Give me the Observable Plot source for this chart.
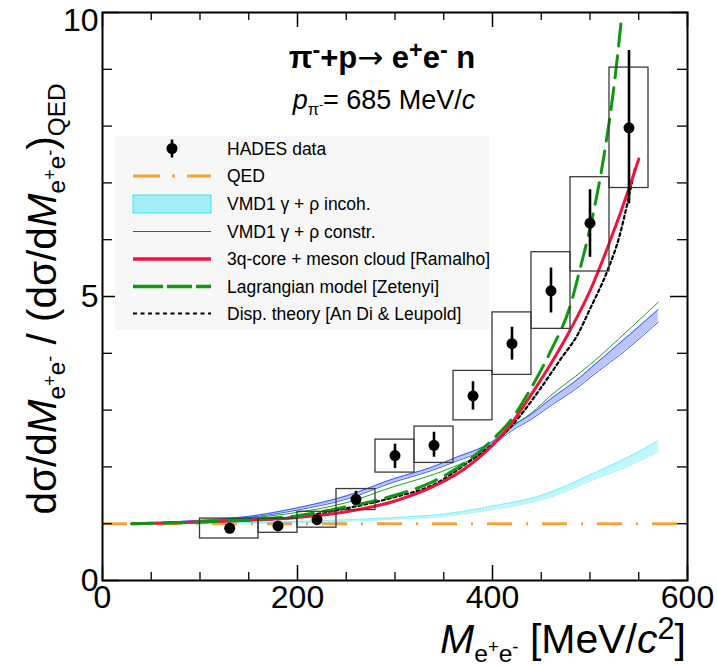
<!DOCTYPE html>
<html><head><meta charset="utf-8">
<script src="https://cdn.jsdelivr.net/npm/d3@7"></script>
<script src="https://cdn.jsdelivr.net/npm/@observablehq/plot@0.6"></script>
<style>
body{margin:0;background:#fff;}
#wrap{position:relative;width:717px;height:666px;font-family:"Liberation Sans",Arial,Helvetica,sans-serif;color:#000;}
.ov{position:absolute;white-space:nowrap;line-height:1;}
.sb{font-size:0.6em;position:relative;top:0.35em;}
.sp{font-size:0.75em;position:relative;top:-0.45em;}
.arr{font-weight:normal;font-family:"DejaVu Sans",sans-serif;}
</style></head><body><div id="wrap"></div>
<script>
// ---- HADES data points ----
const dataX  = [130.5, 180, 220, 260, 300, 340, 380, 420, 460, 500, 540];
const dataY  = [0.92, 0.96, 1.07, 1.43, 2.20, 2.38, 3.25, 4.17, 5.10, 6.29, 7.97];
const statLo = [0.84, 0.89, 0.99, 1.35, 1.97, 2.17, 3.00, 3.88, 4.71, 5.69, 6.63];
const statHi = [1.00, 1.03, 1.15, 1.57, 2.40, 2.61, 3.50, 4.46, 5.50, 6.88, 9.33];
// systematic boxes
const sysX1 = [100, 160, 200, 240, 280, 320, 360, 400, 440, 480, 520];
const sysX2 = [160, 200, 240, 280, 320, 360, 400, 440, 480, 520, 560];
const sysLo = [0.74, 0.84, 0.93, 1.24, 1.90, 2.07, 2.82, 3.62, 4.43, 5.44, 6.91];
const sysHi = [1.09, 1.09, 1.21, 1.61, 2.48, 2.71, 3.69, 4.72, 5.78, 7.10, 9.03];
// QED reference
const qedY = [1];
// VMD1 gamma + rho incoherent (band)
const incohX  = [30, 100, 150, 200, 250, 300, 350, 400, 450, 480, 500, 540, 570];
const incohLo = [1.00, 1.00, 1.01, 1.02, 1.04, 1.08, 1.13, 1.25, 1.42, 1.60, 1.75, 2.02, 2.27];
const incohHi = [1.00, 1.01, 1.02, 1.04, 1.07, 1.11, 1.17, 1.31, 1.50, 1.70, 1.86, 2.18, 2.46];
// VMD1 gamma + rho constructive (band)
const constrX  = [30, 100, 150, 200, 250, 300, 335, 360, 400, 420, 440, 460, 490, 500, 540, 570];
const constrLo = [1.00, 1.05, 1.11, 1.24, 1.43, 1.74, 1.92, 2.08, 2.38, 2.64, 2.84, 3.08, 3.43, 3.57, 4.10, 4.55];
const constrHi = [1.00, 1.06, 1.13, 1.28, 1.49, 1.80, 1.98, 2.15, 2.45, 2.72, 2.93, 3.20, 3.58, 3.73, 4.32, 4.77];
// thin green companion curve
const greenThin = [1.00, 1.04, 1.10, 1.20, 1.37, 1.66, 1.84, 2.00, 2.36, 2.70, 2.95, 3.26, 3.66, 3.80, 4.42, 4.90];
// 3q-core + meson cloud [Ramalho]
const ramX = [30, 100, 150, 200, 250, 300, 340, 370, 400, 420, 440, 460, 480, 500, 520, 540, 550];
const ramY = [1.00, 1.03, 1.06, 1.11, 1.21, 1.40, 1.66, 1.95, 2.38, 2.78, 3.28, 3.82, 4.42, 5.10, 5.95, 6.90, 7.42];
// Lagrangian model [Zetenyi]
const zetX = [30, 100, 150, 200, 250, 300, 340, 370, 400, 420, 440, 460, 480, 490, 500, 515, 525, 532];
const zetY = [1.00, 1.03, 1.07, 1.14, 1.30, 1.50, 1.75, 2.05, 2.48, 2.85, 3.40, 4.05, 4.85, 5.50, 6.20, 7.55, 8.75, 9.85];
// Dispersion theory [An Di & Leupold]
const dispX = [30, 100, 150, 200, 250, 300, 340, 375, 400, 420, 450, 470, 488, 500, 518, 530, 541, 546];
const dispY = [1.00, 1.03, 1.06, 1.12, 1.27, 1.47, 1.69, 2.08, 2.40, 2.73, 3.40, 3.90, 4.35, 4.78, 5.46, 6.05, 6.85, 7.25];
// ticks
const xMajor = [0, 200, 400, 600];
const xMinor = [50, 100, 150, 250, 300, 350, 450, 500, 550];
const yMajor = [0, 5, 10];
const yLabelsLow = [0, 5];
const yLabelsTop = [10];
const yMinor = [1, 2, 3, 4, 6, 7, 8, 9];

const W = 717, H = 666, mL = 102, mR = 30, mT = 12, mB = 86;
const pW = W - mL - mR, pH = H - mT - mB;

const pts = dataX.map((x, i) => ({x, y: dataY[i], lo: statLo[i], hi: statHi[i]}));
const boxes = sysX1.map((x1, i) => ({x1, x2: sysX2[i], y1: sysLo[i], y2: sysHi[i]}));
const incoh = incohX.map((x, i) => ({x, lo: incohLo[i], hi: incohHi[i]}));
const constr = constrX.map((x, i) => ({x, lo: constrLo[i], hi: constrHi[i], g: greenThin[i]}));
const ram = ramX.map((x, i) => ({x, y: ramY[i]}));
const zet = zetX.map((x, i) => ({x, y: zetY[i]}));
const disp = dispX.map((x, i) => ({x, y: dispY[i]}));

const orange = "#f7a03c", red = "#f2133c", green = "#0f970f", blue = "#2a4cff", cyan = "#3ae6f4";
const crv = "monotone-x";

const chart = Plot.plot({
  width: W, height: H,
  marginLeft: mL, marginRight: mR, marginTop: mT, marginBottom: mB,
  style: {fontFamily: "'Liberation Sans', Arial, Helvetica, sans-serif", fontSize: "32px", color: "#000", background: "#fff", overflow: "visible"},
  x: {domain: [0, 600]},
  y: {domain: [0, 10]},
  marks: [
    // QED
    Plot.ruleY(qedY, {y: d => d, stroke: orange, strokeWidth: 3, strokeDasharray: "25,14,2,14"}),
    // incoherent band
    Plot.areaY(incoh, {x: "x", y1: "lo", y2: "hi", fill: cyan, fillOpacity: 0.32, curve: crv}),
    Plot.line(incoh, {x: "x", y: "lo", stroke: cyan, strokeWidth: 0.7, strokeOpacity: 0.9, strokeDasharray: "1.5,1.5", curve: crv}),
    Plot.line(incoh, {x: "x", y: "hi", stroke: cyan, strokeWidth: 0.7, strokeOpacity: 0.9, strokeDasharray: "1.5,1.5", curve: crv}),
    // constructive band
    Plot.areaY(constr, {x: "x", y1: "lo", y2: "hi", fill: blue, fillOpacity: 0.32, curve: crv}),
    Plot.line(constr, {x: "x", y: "lo", stroke: blue, strokeWidth: 0.9, curve: crv}),
    Plot.line(constr, {x: "x", y: "hi", stroke: blue, strokeWidth: 0.9, curve: crv}),
    Plot.line(constr, {x: "x", y: "g", stroke: "#1f9f1f", strokeWidth: 1, curve: crv}),
    // model curves
    Plot.line(disp, {x: "x", y: "y", stroke: "#000", strokeWidth: 2.2, strokeDasharray: "3,3", curve: crv}),
    Plot.line(ram, {x: "x", y: "y", stroke: red, strokeWidth: 3, curve: crv}),
    Plot.line(zet, {x: "x", y: "y", stroke: green, strokeWidth: 3, strokeDasharray: "22,10", curve: crv}),
    // data
    Plot.rect(boxes, {x1: "x1", x2: "x2", y1: "y1", y2: "y2", fill: "none", stroke: "#3a3a3a", strokeWidth: 1.3}),
    Plot.ruleX(pts, {x: "x", y1: "lo", y2: "hi", stroke: "#000", strokeWidth: 2.6}),
    Plot.dot(pts, {x: "x", y: "y", r: 5.5, fill: "#000", stroke: "none"}),
    // frame and inward ticks on all four sides
    Plot.frame({stroke: "#000", strokeWidth: 2}),
    Plot.tickX(xMajor, {x: d => d, insetTop: pH - 15, stroke: "#000", strokeWidth: 1.5}),
    Plot.tickX(xMinor, {x: d => d, insetTop: pH - 8, stroke: "#000", strokeWidth: 1.3}),
    Plot.tickX(xMajor, {x: d => d, insetBottom: pH - 15, stroke: "#000", strokeWidth: 1.5}),
    Plot.tickX(xMinor, {x: d => d, insetBottom: pH - 8, stroke: "#000", strokeWidth: 1.3}),
    Plot.tickY(yMajor, {y: d => d, insetRight: pW - 17, stroke: "#000", strokeWidth: 1.5}),
    Plot.tickY(yMinor, {y: d => d, insetRight: pW - 10, stroke: "#000", strokeWidth: 1.3}),
    Plot.tickY(yMajor, {y: d => d, insetLeft: pW - 17, stroke: "#000", strokeWidth: 1.5}),
    Plot.tickY(yMinor, {y: d => d, insetLeft: pW - 10, stroke: "#000", strokeWidth: 1.3}),
    Plot.axisX({ticks: xMajor, tickSize: 0, tickPadding: 5, label: null, fontSize: 32}),
    Plot.axisY({ticks: yLabelsLow, tickSize: 0, tickPadding: 4, label: null, fontSize: 32}),
    Plot.axisY({ticks: yLabelsTop, tickSize: 0, tickPadding: 4, label: null, fontSize: 32, dy: 8})
  ]
});

const wrap = document.getElementById("wrap");
wrap.appendChild(chart);

function ov(html, css) {
  const d = document.createElement("div");
  d.className = "ov";
  d.innerHTML = html;
  Object.assign(d.style, css);
  wrap.appendChild(d);
  return d;
}
// title & subtitle
ov('π<span class="sp">-</span>+p<span class="arr">→</span> e<span class="sp">+</span>e<span class="sp">-</span> n',
   {left: "382px", top: "57px", transform: "translate(-50%,-50%)", fontSize: "31px", fontWeight: "bold"});
ov('<i>p</i><span class="sb">π<span class="sp">-</span></span>= 685 MeV/<i>c</i>',
   {left: "384px", top: "100px", transform: "translate(-50%,-50%)", fontSize: "27px"});
// y axis label
ov('dσ/d<i>M</i><span class="sb">e<span class="sp">+</span>e<span class="sp">-</span></span> / (dσ/d<i>M</i><span class="sb">e<span class="sp">+</span>e<span class="sp">-</span></span>)<span class="sb">QED</span>',
   {left: "42px", top: "299px", transformOrigin: "0 0", transform: "rotate(-90deg) translate(-50%,-50%)", fontSize: "40.5px"});
// x axis label
ov('<i>M</i><span class="sb">e<span class="sp">+</span>e<span class="sp">-</span></span> [MeV/<i>c</i><span class="sp">2</span>]',
   {right: "31px", top: "619px", fontSize: "41px"});

// legend
const legItems = ["HADES data", "QED", "VMD1 γ + ρ incoh.", "VMD1 γ + ρ constr.",
  "3q-core + meson cloud [Ramalho]", "Lagrangian model [Zetenyi]", "Disp. theory [An Di & Leupold]"];
const ns = "http://www.w3.org/2000/svg";
const lg = document.createElementNS(ns, "svg");
lg.setAttribute("width", 385); lg.setAttribute("height", 194);
lg.style.position = "absolute"; lg.style.left = "115px"; lg.style.top = "136px"; lg.style.overflow = "visible";
const rowY = [12.5, 40, 68, 95.5, 123, 150.5, 177.5];
let s = '<rect x="0" y="0" width="374" height="194" fill="#f7f7f7"/>';
s += `<line x1="57" x2="57" y1="${rowY[0]-9}" y2="${rowY[0]+9}" stroke="#000" stroke-width="2.6"/><circle cx="57" cy="${rowY[0]}" r="5.5" fill="#000"/>`;
s += `<line x1="18" x2="96" y1="${rowY[1]}" y2="${rowY[1]}" stroke="${orange}" stroke-width="3" stroke-dasharray="27,12,3,12"/>`;
s += `<rect x="18" y="${rowY[2]-9}" width="78" height="18" fill="${cyan}" fill-opacity="0.45" stroke="${cyan}" stroke-width="1"/>`;
s += `<line x1="18" x2="96" y1="${rowY[3]}" y2="${rowY[3]}" stroke="${blue}" stroke-width="1"/>`;
s += `<line x1="18" x2="96" y1="${rowY[4]}" y2="${rowY[4]}" stroke="${red}" stroke-width="3.5"/>`;
s += `<line x1="18" x2="96" y1="${rowY[5]}" y2="${rowY[5]}" stroke="${green}" stroke-width="3.5" stroke-dasharray="30,4,25,4"/>`;
s += `<line x1="18" x2="96" y1="${rowY[6]}" y2="${rowY[6]}" stroke="#000" stroke-width="2" stroke-dasharray="4,3.5"/>`;
legItems.forEach((t, i) => {
  s += `<text x="112" y="${rowY[i]}" dy="0.36em" font-size="17.5" font-family="'Liberation Sans', Arial, sans-serif" fill="#000">${t.replace(/&/g, "&amp;")}</text>`;
});
lg.innerHTML = s;
wrap.appendChild(lg);
</script></body></html>
